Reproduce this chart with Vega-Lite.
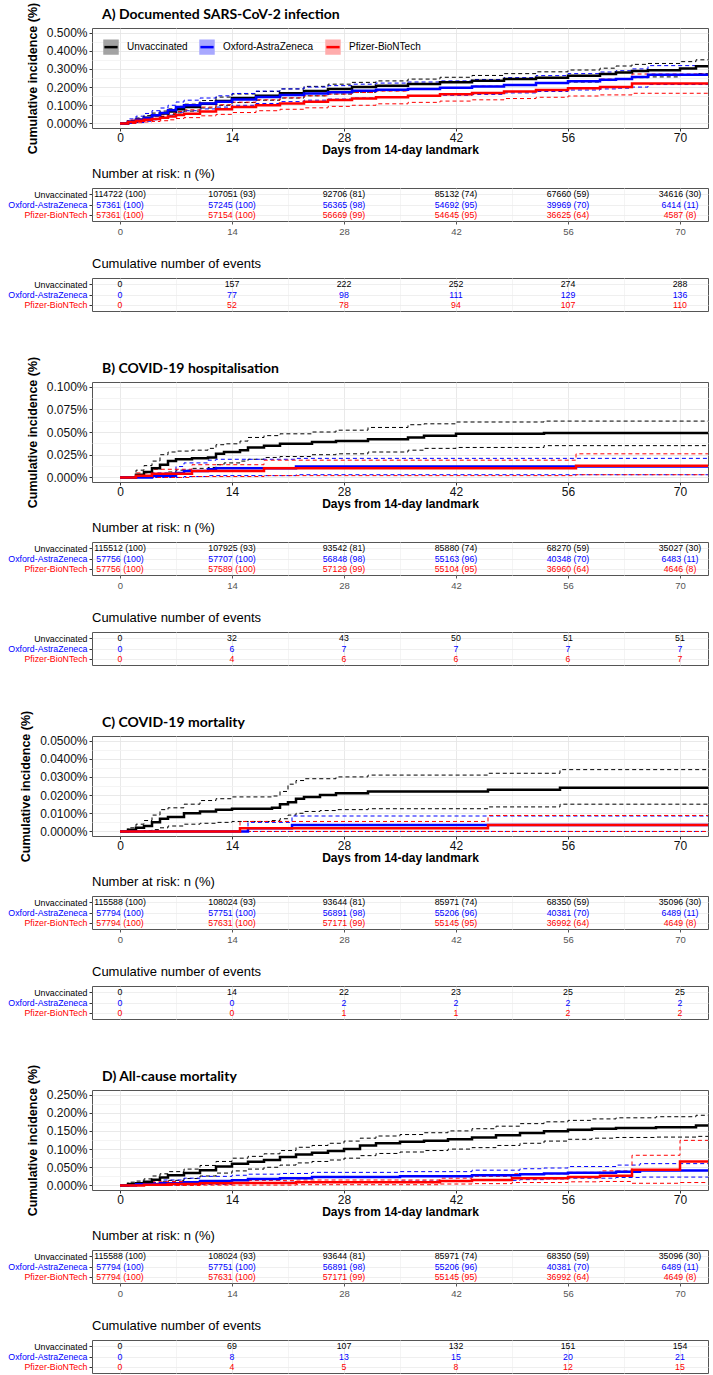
{
"$schema": "https://vega.github.io/schema/vega-lite/v6.json",
"background": "white",
"padding": {"left": 7, "top": 1, "right": 5, "bottom": 2},
"config": {
 "view": {"stroke": "#555555", "strokeWidth": 1},
 "font": "Liberation Sans",
 "axis": {"labelFont": "Liberation Sans", "titleFont": "Liberation Sans", "labelColor": "#111111", "titleColor": "#000000", "tickColor": "#333333", "gridWidth": 0.8, "labelOverlap": false},
 "legend": {"labelFont": "Liberation Sans"}
},
"datasets": {
 "curves": [
  {"panel":"A","group":"Unvaccinated","day":0,"est":0,"lo":0,"hi":0},
  {"panel":"A","group":"Unvaccinated","day":1,"est":0.01,"lo":0.003,"hi":0.017},
  {"panel":"A","group":"Unvaccinated","day":2,"est":0.02,"lo":0.01,"hi":0.03},
  {"panel":"A","group":"Unvaccinated","day":3,"est":0.032,"lo":0.018,"hi":0.043},
  {"panel":"A","group":"Unvaccinated","day":4,"est":0.045,"lo":0.028,"hi":0.057},
  {"panel":"A","group":"Unvaccinated","day":5,"est":0.055,"lo":0.038,"hi":0.068},
  {"panel":"A","group":"Unvaccinated","day":6,"est":0.066,"lo":0.048,"hi":0.08},
  {"panel":"A","group":"Unvaccinated","day":7,"est":0.078,"lo":0.058,"hi":0.094},
  {"panel":"A","group":"Unvaccinated","day":8,"est":0.09,"lo":0.068,"hi":0.106},
  {"panel":"A","group":"Unvaccinated","day":10,"est":0.108,"lo":0.085,"hi":0.126},
  {"panel":"A","group":"Unvaccinated","day":12,"est":0.124,"lo":0.1,"hi":0.145},
  {"panel":"A","group":"Unvaccinated","day":14,"est":0.14,"lo":0.115,"hi":0.162},
  {"panel":"A","group":"Unvaccinated","day":17,"est":0.153,"lo":0.128,"hi":0.176},
  {"panel":"A","group":"Unvaccinated","day":20,"est":0.166,"lo":0.14,"hi":0.19},
  {"panel":"A","group":"Unvaccinated","day":23,"est":0.178,"lo":0.152,"hi":0.204},
  {"panel":"A","group":"Unvaccinated","day":26,"est":0.19,"lo":0.162,"hi":0.216},
  {"panel":"A","group":"Unvaccinated","day":29,"est":0.2,"lo":0.172,"hi":0.226},
  {"panel":"A","group":"Unvaccinated","day":32,"est":0.208,"lo":0.18,"hi":0.234},
  {"panel":"A","group":"Unvaccinated","day":36,"est":0.217,"lo":0.188,"hi":0.244},
  {"panel":"A","group":"Unvaccinated","day":40,"est":0.226,"lo":0.196,"hi":0.254},
  {"panel":"A","group":"Unvaccinated","day":44,"est":0.235,"lo":0.204,"hi":0.264},
  {"panel":"A","group":"Unvaccinated","day":48,"est":0.244,"lo":0.212,"hi":0.274},
  {"panel":"A","group":"Unvaccinated","day":52,"est":0.252,"lo":0.22,"hi":0.284},
  {"panel":"A","group":"Unvaccinated","day":56,"est":0.262,"lo":0.228,"hi":0.294},
  {"panel":"A","group":"Unvaccinated","day":60,"est":0.272,"lo":0.236,"hi":0.304},
  {"panel":"A","group":"Unvaccinated","day":62,"est":0.28,"lo":0.244,"hi":0.316},
  {"panel":"A","group":"Unvaccinated","day":64,"est":0.288,"lo":0.252,"hi":0.325},
  {"panel":"A","group":"Unvaccinated","day":66,"est":0.292,"lo":0.256,"hi":0.33},
  {"panel":"A","group":"Unvaccinated","day":70,"est":0.302,"lo":0.264,"hi":0.34},
  {"panel":"A","group":"Unvaccinated","day":72,"est":0.314,"lo":0.274,"hi":0.35},
  {"panel":"A","group":"Unvaccinated","day":74,"est":0.314,"lo":0.274,"hi":0.35},
  {"panel":"A","group":"Oxford-AstraZeneca","day":0,"est":0,"lo":0,"hi":0},
  {"panel":"A","group":"Oxford-AstraZeneca","day":1,"est":0.01,"lo":0,"hi":0.025},
  {"panel":"A","group":"Oxford-AstraZeneca","day":2,"est":0.02,"lo":0.005,"hi":0.04},
  {"panel":"A","group":"Oxford-AstraZeneca","day":3,"est":0.03,"lo":0.012,"hi":0.055},
  {"panel":"A","group":"Oxford-AstraZeneca","day":4,"est":0.045,"lo":0.02,"hi":0.07},
  {"panel":"A","group":"Oxford-AstraZeneca","day":5,"est":0.058,"lo":0.03,"hi":0.085},
  {"panel":"A","group":"Oxford-AstraZeneca","day":6,"est":0.072,"lo":0.045,"hi":0.1},
  {"panel":"A","group":"Oxford-AstraZeneca","day":7,"est":0.09,"lo":0.062,"hi":0.118},
  {"panel":"A","group":"Oxford-AstraZeneca","day":8,"est":0.1,"lo":0.07,"hi":0.128},
  {"panel":"A","group":"Oxford-AstraZeneca","day":10,"est":0.11,"lo":0.08,"hi":0.14},
  {"panel":"A","group":"Oxford-AstraZeneca","day":12,"est":0.12,"lo":0.09,"hi":0.152},
  {"panel":"A","group":"Oxford-AstraZeneca","day":14,"est":0.132,"lo":0.1,"hi":0.165},
  {"panel":"A","group":"Oxford-AstraZeneca","day":17,"est":0.145,"lo":0.11,"hi":0.178},
  {"panel":"A","group":"Oxford-AstraZeneca","day":20,"est":0.156,"lo":0.12,"hi":0.19},
  {"panel":"A","group":"Oxford-AstraZeneca","day":23,"est":0.165,"lo":0.128,"hi":0.2},
  {"panel":"A","group":"Oxford-AstraZeneca","day":26,"est":0.172,"lo":0.134,"hi":0.208},
  {"panel":"A","group":"Oxford-AstraZeneca","day":29,"est":0.18,"lo":0.14,"hi":0.216},
  {"panel":"A","group":"Oxford-AstraZeneca","day":32,"est":0.185,"lo":0.145,"hi":0.222},
  {"panel":"A","group":"Oxford-AstraZeneca","day":36,"est":0.19,"lo":0.15,"hi":0.228},
  {"panel":"A","group":"Oxford-AstraZeneca","day":40,"est":0.196,"lo":0.155,"hi":0.234},
  {"panel":"A","group":"Oxford-AstraZeneca","day":44,"est":0.203,"lo":0.16,"hi":0.242},
  {"panel":"A","group":"Oxford-AstraZeneca","day":48,"est":0.212,"lo":0.168,"hi":0.252},
  {"panel":"A","group":"Oxford-AstraZeneca","day":52,"est":0.222,"lo":0.176,"hi":0.263},
  {"panel":"A","group":"Oxford-AstraZeneca","day":56,"est":0.232,"lo":0.184,"hi":0.274},
  {"panel":"A","group":"Oxford-AstraZeneca","day":60,"est":0.24,"lo":0.19,"hi":0.283},
  {"panel":"A","group":"Oxford-AstraZeneca","day":62,"est":0.245,"lo":0.194,"hi":0.29},
  {"panel":"A","group":"Oxford-AstraZeneca","day":64,"est":0.255,"lo":0.2,"hi":0.3},
  {"panel":"A","group":"Oxford-AstraZeneca","day":66,"est":0.268,"lo":0.214,"hi":0.318},
  {"panel":"A","group":"Oxford-AstraZeneca","day":74,"est":0.27,"lo":0.215,"hi":0.32},
  {"panel":"A","group":"Pfizer-BioNTech","day":0,"est":0,"lo":0,"hi":0},
  {"panel":"A","group":"Pfizer-BioNTech","day":1,"est":0.008,"lo":0,"hi":0.018},
  {"panel":"A","group":"Pfizer-BioNTech","day":2,"est":0.015,"lo":0.004,"hi":0.026},
  {"panel":"A","group":"Pfizer-BioNTech","day":3,"est":0.02,"lo":0.008,"hi":0.033},
  {"panel":"A","group":"Pfizer-BioNTech","day":4,"est":0.025,"lo":0.011,"hi":0.04},
  {"panel":"A","group":"Pfizer-BioNTech","day":5,"est":0.031,"lo":0.015,"hi":0.047},
  {"panel":"A","group":"Pfizer-BioNTech","day":6,"est":0.038,"lo":0.02,"hi":0.055},
  {"panel":"A","group":"Pfizer-BioNTech","day":7,"est":0.047,"lo":0.027,"hi":0.066},
  {"panel":"A","group":"Pfizer-BioNTech","day":8,"est":0.054,"lo":0.032,"hi":0.075},
  {"panel":"A","group":"Pfizer-BioNTech","day":10,"est":0.066,"lo":0.042,"hi":0.09},
  {"panel":"A","group":"Pfizer-BioNTech","day":12,"est":0.078,"lo":0.05,"hi":0.103},
  {"panel":"A","group":"Pfizer-BioNTech","day":14,"est":0.09,"lo":0.06,"hi":0.117},
  {"panel":"A","group":"Pfizer-BioNTech","day":17,"est":0.1,"lo":0.07,"hi":0.13},
  {"panel":"A","group":"Pfizer-BioNTech","day":20,"est":0.11,"lo":0.078,"hi":0.141},
  {"panel":"A","group":"Pfizer-BioNTech","day":23,"est":0.12,"lo":0.086,"hi":0.152},
  {"panel":"A","group":"Pfizer-BioNTech","day":26,"est":0.129,"lo":0.094,"hi":0.162},
  {"panel":"A","group":"Pfizer-BioNTech","day":29,"est":0.137,"lo":0.1,"hi":0.17},
  {"panel":"A","group":"Pfizer-BioNTech","day":32,"est":0.144,"lo":0.108,"hi":0.178},
  {"panel":"A","group":"Pfizer-BioNTech","day":36,"est":0.153,"lo":0.116,"hi":0.188},
  {"panel":"A","group":"Pfizer-BioNTech","day":40,"est":0.161,"lo":0.123,"hi":0.197},
  {"panel":"A","group":"Pfizer-BioNTech","day":44,"est":0.168,"lo":0.13,"hi":0.205},
  {"panel":"A","group":"Pfizer-BioNTech","day":48,"est":0.176,"lo":0.137,"hi":0.214},
  {"panel":"A","group":"Pfizer-BioNTech","day":52,"est":0.184,"lo":0.144,"hi":0.224},
  {"panel":"A","group":"Pfizer-BioNTech","day":56,"est":0.193,"lo":0.151,"hi":0.235},
  {"panel":"A","group":"Pfizer-BioNTech","day":60,"est":0.2,"lo":0.157,"hi":0.244},
  {"panel":"A","group":"Pfizer-BioNTech","day":64,"est":0.22,"lo":0.166,"hi":0.272},
  {"panel":"A","group":"Pfizer-BioNTech","day":74,"est":0.22,"lo":0.166,"hi":0.272},

  {"panel":"B","group":"Unvaccinated","day":0,"est":0,"lo":0,"hi":0},
  {"panel":"B","group":"Unvaccinated","day":2,"est":0.003,"lo":0,"hi":0.008},
  {"panel":"B","group":"Unvaccinated","day":3,"est":0.006,"lo":0.001,"hi":0.013},
  {"panel":"B","group":"Unvaccinated","day":4,"est":0.01,"lo":0.002,"hi":0.018},
  {"panel":"B","group":"Unvaccinated","day":5,"est":0.014,"lo":0.004,"hi":0.025},
  {"panel":"B","group":"Unvaccinated","day":6,"est":0.018,"lo":0.006,"hi":0.028},
  {"panel":"B","group":"Unvaccinated","day":7,"est":0.02,"lo":0.008,"hi":0.029},
  {"panel":"B","group":"Unvaccinated","day":9,"est":0.021,"lo":0.01,"hi":0.03},
  {"panel":"B","group":"Unvaccinated","day":11,"est":0.022,"lo":0.011,"hi":0.032},
  {"panel":"B","group":"Unvaccinated","day":12,"est":0.026,"lo":0.014,"hi":0.036},
  {"panel":"B","group":"Unvaccinated","day":13,"est":0.028,"lo":0.016,"hi":0.037},
  {"panel":"B","group":"Unvaccinated","day":15,"est":0.03,"lo":0.018,"hi":0.04},
  {"panel":"B","group":"Unvaccinated","day":16,"est":0.033,"lo":0.02,"hi":0.044},
  {"panel":"B","group":"Unvaccinated","day":18,"est":0.035,"lo":0.022,"hi":0.046},
  {"panel":"B","group":"Unvaccinated","day":20,"est":0.037,"lo":0.023,"hi":0.048},
  {"panel":"B","group":"Unvaccinated","day":24,"est":0.039,"lo":0.025,"hi":0.05},
  {"panel":"B","group":"Unvaccinated","day":27,"est":0.04,"lo":0.026,"hi":0.052},
  {"panel":"B","group":"Unvaccinated","day":31,"est":0.042,"lo":0.028,"hi":0.055},
  {"panel":"B","group":"Unvaccinated","day":36,"est":0.044,"lo":0.03,"hi":0.058},
  {"panel":"B","group":"Unvaccinated","day":38,"est":0.046,"lo":0.032,"hi":0.059},
  {"panel":"B","group":"Unvaccinated","day":42,"est":0.048,"lo":0.033,"hi":0.061},
  {"panel":"B","group":"Unvaccinated","day":53,"est":0.049,"lo":0.035,"hi":0.062},
  {"panel":"B","group":"Unvaccinated","day":74,"est":0.049,"lo":0.035,"hi":0.062},
  {"panel":"B","group":"Oxford-AstraZeneca","day":0,"est":0,"lo":0,"hi":0},
  {"panel":"B","group":"Oxford-AstraZeneca","day":4,"est":0.002,"lo":0,"hi":0.005},
  {"panel":"B","group":"Oxford-AstraZeneca","day":7,"est":0.005,"lo":0,"hi":0.012},
  {"panel":"B","group":"Oxford-AstraZeneca","day":8,"est":0.007,"lo":0.001,"hi":0.016},
  {"panel":"B","group":"Oxford-AstraZeneca","day":11,"est":0.009,"lo":0.002,"hi":0.019},
  {"panel":"B","group":"Oxford-AstraZeneca","day":12,"est":0.01,"lo":0.002,"hi":0.02},
  {"panel":"B","group":"Oxford-AstraZeneca","day":22,"est":0.012,"lo":0.003,"hi":0.021},
  {"panel":"B","group":"Oxford-AstraZeneca","day":74,"est":0.012,"lo":0.003,"hi":0.021},
  {"panel":"B","group":"Pfizer-BioNTech","day":0,"est":0,"lo":0,"hi":0},
  {"panel":"B","group":"Pfizer-BioNTech","day":2,"est":0.002,"lo":0,"hi":0.005},
  {"panel":"B","group":"Pfizer-BioNTech","day":4,"est":0.004,"lo":0,"hi":0.009},
  {"panel":"B","group":"Pfizer-BioNTech","day":9,"est":0.007,"lo":0.001,"hi":0.014},
  {"panel":"B","group":"Pfizer-BioNTech","day":18,"est":0.01,"lo":0.002,"hi":0.019},
  {"panel":"B","group":"Pfizer-BioNTech","day":57,"est":0.013,"lo":0.003,"hi":0.026},
  {"panel":"B","group":"Pfizer-BioNTech","day":74,"est":0.013,"lo":0.003,"hi":0.026},

  {"panel":"C","group":"Unvaccinated","day":0,"est":0,"lo":0,"hi":0},
  {"panel":"C","group":"Unvaccinated","day":1,"est":0.001,"lo":0,"hi":0.002},
  {"panel":"C","group":"Unvaccinated","day":2,"est":0.002,"lo":0,"hi":0.004},
  {"panel":"C","group":"Unvaccinated","day":3,"est":0.003,"lo":0.0005,"hi":0.006},
  {"panel":"C","group":"Unvaccinated","day":4,"est":0.005,"lo":0.001,"hi":0.009},
  {"panel":"C","group":"Unvaccinated","day":5,"est":0.007,"lo":0.002,"hi":0.012},
  {"panel":"C","group":"Unvaccinated","day":6,"est":0.008,"lo":0.003,"hi":0.013},
  {"panel":"C","group":"Unvaccinated","day":8,"est":0.01,"lo":0.004,"hi":0.015},
  {"panel":"C","group":"Unvaccinated","day":10,"est":0.011,"lo":0.0045,"hi":0.017},
  {"panel":"C","group":"Unvaccinated","day":12,"est":0.012,"lo":0.005,"hi":0.018},
  {"panel":"C","group":"Unvaccinated","day":14,"est":0.0125,"lo":0.0055,"hi":0.019},
  {"panel":"C","group":"Unvaccinated","day":19,"est":0.013,"lo":0.006,"hi":0.0195},
  {"panel":"C","group":"Unvaccinated","day":20,"est":0.015,"lo":0.007,"hi":0.022},
  {"panel":"C","group":"Unvaccinated","day":21,"est":0.016,"lo":0.009,"hi":0.026},
  {"panel":"C","group":"Unvaccinated","day":22,"est":0.018,"lo":0.01,"hi":0.028},
  {"panel":"C","group":"Unvaccinated","day":23,"est":0.019,"lo":0.011,"hi":0.029},
  {"panel":"C","group":"Unvaccinated","day":25,"est":0.02,"lo":0.0115,"hi":0.029},
  {"panel":"C","group":"Unvaccinated","day":27,"est":0.021,"lo":0.012,"hi":0.03},
  {"panel":"C","group":"Unvaccinated","day":31,"est":0.022,"lo":0.0125,"hi":0.031},
  {"panel":"C","group":"Unvaccinated","day":46,"est":0.023,"lo":0.0135,"hi":0.032},
  {"panel":"C","group":"Unvaccinated","day":55,"est":0.024,"lo":0.015,"hi":0.034},
  {"panel":"C","group":"Unvaccinated","day":74,"est":0.024,"lo":0.015,"hi":0.034},
  {"panel":"C","group":"Oxford-AstraZeneca","day":0,"est":0,"lo":0,"hi":0},
  {"panel":"C","group":"Oxford-AstraZeneca","day":16,"est":0.0018,"lo":0,"hi":0.005},
  {"panel":"C","group":"Oxford-AstraZeneca","day":21.5,"est":0.0035,"lo":0,"hi":0.0085},
  {"panel":"C","group":"Oxford-AstraZeneca","day":74,"est":0.0035,"lo":0,"hi":0.0085},
  {"panel":"C","group":"Pfizer-BioNTech","day":0,"est":0,"lo":0,"hi":0},
  {"panel":"C","group":"Pfizer-BioNTech","day":15,"est":0.0018,"lo":0,"hi":0.0055},
  {"panel":"C","group":"Pfizer-BioNTech","day":46,"est":0.0035,"lo":0,"hi":0.0088},
  {"panel":"C","group":"Pfizer-BioNTech","day":74,"est":0.0035,"lo":0,"hi":0.0088},

  {"panel":"D","group":"Unvaccinated","day":0,"est":0,"lo":0,"hi":0},
  {"panel":"D","group":"Unvaccinated","day":1,"est":0.004,"lo":0,"hi":0.009},
  {"panel":"D","group":"Unvaccinated","day":2,"est":0.006,"lo":0.001,"hi":0.012},
  {"panel":"D","group":"Unvaccinated","day":3,"est":0.01,"lo":0.003,"hi":0.018},
  {"panel":"D","group":"Unvaccinated","day":4,"est":0.016,"lo":0.006,"hi":0.026},
  {"panel":"D","group":"Unvaccinated","day":5,"est":0.022,"lo":0.01,"hi":0.032},
  {"panel":"D","group":"Unvaccinated","day":6,"est":0.028,"lo":0.014,"hi":0.038},
  {"panel":"D","group":"Unvaccinated","day":8,"est":0.034,"lo":0.019,"hi":0.045},
  {"panel":"D","group":"Unvaccinated","day":10,"est":0.042,"lo":0.026,"hi":0.055},
  {"panel":"D","group":"Unvaccinated","day":12,"est":0.052,"lo":0.034,"hi":0.066},
  {"panel":"D","group":"Unvaccinated","day":14,"est":0.06,"lo":0.04,"hi":0.075},
  {"panel":"D","group":"Unvaccinated","day":16,"est":0.065,"lo":0.045,"hi":0.08},
  {"panel":"D","group":"Unvaccinated","day":18,"est":0.07,"lo":0.05,"hi":0.087},
  {"panel":"D","group":"Unvaccinated","day":20,"est":0.078,"lo":0.056,"hi":0.096},
  {"panel":"D","group":"Unvaccinated","day":22,"est":0.085,"lo":0.062,"hi":0.105},
  {"panel":"D","group":"Unvaccinated","day":24,"est":0.09,"lo":0.066,"hi":0.11},
  {"panel":"D","group":"Unvaccinated","day":26,"est":0.095,"lo":0.07,"hi":0.116},
  {"panel":"D","group":"Unvaccinated","day":28,"est":0.1,"lo":0.075,"hi":0.122},
  {"panel":"D","group":"Unvaccinated","day":30,"est":0.11,"lo":0.082,"hi":0.13},
  {"panel":"D","group":"Unvaccinated","day":32,"est":0.116,"lo":0.088,"hi":0.136},
  {"panel":"D","group":"Unvaccinated","day":35,"est":0.12,"lo":0.092,"hi":0.14},
  {"panel":"D","group":"Unvaccinated","day":38,"est":0.123,"lo":0.096,"hi":0.145},
  {"panel":"D","group":"Unvaccinated","day":41,"est":0.127,"lo":0.1,"hi":0.15},
  {"panel":"D","group":"Unvaccinated","day":44,"est":0.132,"lo":0.104,"hi":0.156},
  {"panel":"D","group":"Unvaccinated","day":47,"est":0.138,"lo":0.11,"hi":0.163},
  {"panel":"D","group":"Unvaccinated","day":50,"est":0.144,"lo":0.116,"hi":0.17},
  {"panel":"D","group":"Unvaccinated","day":53,"est":0.149,"lo":0.122,"hi":0.175},
  {"panel":"D","group":"Unvaccinated","day":56,"est":0.153,"lo":0.127,"hi":0.179},
  {"panel":"D","group":"Unvaccinated","day":59,"est":0.156,"lo":0.13,"hi":0.183},
  {"panel":"D","group":"Unvaccinated","day":62,"est":0.158,"lo":0.132,"hi":0.186},
  {"panel":"D","group":"Unvaccinated","day":67,"est":0.16,"lo":0.133,"hi":0.189},
  {"panel":"D","group":"Unvaccinated","day":72,"est":0.165,"lo":0.135,"hi":0.193},
  {"panel":"D","group":"Unvaccinated","day":74,"est":0.165,"lo":0.135,"hi":0.193},
  {"panel":"D","group":"Oxford-AstraZeneca","day":0,"est":0,"lo":0,"hi":0},
  {"panel":"D","group":"Oxford-AstraZeneca","day":2,"est":0.003,"lo":0,"hi":0.008},
  {"panel":"D","group":"Oxford-AstraZeneca","day":5,"est":0.006,"lo":0.001,"hi":0.015},
  {"panel":"D","group":"Oxford-AstraZeneca","day":8,"est":0.009,"lo":0.002,"hi":0.02},
  {"panel":"D","group":"Oxford-AstraZeneca","day":10,"est":0.012,"lo":0.003,"hi":0.025},
  {"panel":"D","group":"Oxford-AstraZeneca","day":14,"est":0.014,"lo":0.005,"hi":0.028},
  {"panel":"D","group":"Oxford-AstraZeneca","day":16,"est":0.018,"lo":0.007,"hi":0.031},
  {"panel":"D","group":"Oxford-AstraZeneca","day":20,"est":0.02,"lo":0.009,"hi":0.033},
  {"panel":"D","group":"Oxford-AstraZeneca","day":24,"est":0.023,"lo":0.01,"hi":0.036},
  {"panel":"D","group":"Oxford-AstraZeneca","day":35,"est":0.025,"lo":0.012,"hi":0.038},
  {"panel":"D","group":"Oxford-AstraZeneca","day":44,"est":0.028,"lo":0.014,"hi":0.042},
  {"panel":"D","group":"Oxford-AstraZeneca","day":50,"est":0.031,"lo":0.016,"hi":0.046},
  {"panel":"D","group":"Oxford-AstraZeneca","day":53,"est":0.033,"lo":0.018,"hi":0.048},
  {"panel":"D","group":"Oxford-AstraZeneca","day":56,"est":0.035,"lo":0.02,"hi":0.052},
  {"panel":"D","group":"Oxford-AstraZeneca","day":62,"est":0.038,"lo":0.022,"hi":0.056},
  {"panel":"D","group":"Oxford-AstraZeneca","day":65,"est":0.041,"lo":0.023,"hi":0.06},
  {"panel":"D","group":"Oxford-AstraZeneca","day":74,"est":0.041,"lo":0.023,"hi":0.06},
  {"panel":"D","group":"Pfizer-BioNTech","day":0,"est":0,"lo":0,"hi":0},
  {"panel":"D","group":"Pfizer-BioNTech","day":3,"est":0.002,"lo":0,"hi":0.01},
  {"panel":"D","group":"Pfizer-BioNTech","day":6,"est":0.004,"lo":0,"hi":0.011},
  {"panel":"D","group":"Pfizer-BioNTech","day":10,"est":0.006,"lo":0.001,"hi":0.013},
  {"panel":"D","group":"Pfizer-BioNTech","day":14,"est":0.007,"lo":0.001,"hi":0.014},
  {"panel":"D","group":"Pfizer-BioNTech","day":22,"est":0.009,"lo":0.002,"hi":0.015},
  {"panel":"D","group":"Pfizer-BioNTech","day":40,"est":0.012,"lo":0.004,"hi":0.02},
  {"panel":"D","group":"Pfizer-BioNTech","day":44,"est":0.015,"lo":0.005,"hi":0.025},
  {"panel":"D","group":"Pfizer-BioNTech","day":49,"est":0.02,"lo":0.008,"hi":0.032},
  {"panel":"D","group":"Pfizer-BioNTech","day":56,"est":0.023,"lo":0.01,"hi":0.036},
  {"panel":"D","group":"Pfizer-BioNTech","day":60,"est":0.027,"lo":0.011,"hi":0.04},
  {"panel":"D","group":"Pfizer-BioNTech","day":64,"est":0.043,"lo":0.006,"hi":0.083},
  {"panel":"D","group":"Pfizer-BioNTech","day":70,"est":0.066,"lo":0.008,"hi":0.124},
  {"panel":"D","group":"Pfizer-BioNTech","day":74,"est":0.066,"lo":0.008,"hi":0.124}
 ],
 "risk": [
  {"panel":"A","group":"Unvaccinated","day":0,"label":"114722 (100)"},
  {"panel":"A","group":"Unvaccinated","day":14,"label":"107051 (93)"},
  {"panel":"A","group":"Unvaccinated","day":28,"label":"92706 (81)"},
  {"panel":"A","group":"Unvaccinated","day":42,"label":"85132 (74)"},
  {"panel":"A","group":"Unvaccinated","day":56,"label":"67660 (59)"},
  {"panel":"A","group":"Unvaccinated","day":70,"label":"34616 (30)"},
  {"panel":"A","group":"Oxford-AstraZeneca","day":0,"label":"57361 (100)"},
  {"panel":"A","group":"Oxford-AstraZeneca","day":14,"label":"57245 (100)"},
  {"panel":"A","group":"Oxford-AstraZeneca","day":28,"label":"56365 (98)"},
  {"panel":"A","group":"Oxford-AstraZeneca","day":42,"label":"54692 (95)"},
  {"panel":"A","group":"Oxford-AstraZeneca","day":56,"label":"39969 (70)"},
  {"panel":"A","group":"Oxford-AstraZeneca","day":70,"label":"6414 (11)"},
  {"panel":"A","group":"Pfizer-BioNTech","day":0,"label":"57361 (100)"},
  {"panel":"A","group":"Pfizer-BioNTech","day":14,"label":"57154 (100)"},
  {"panel":"A","group":"Pfizer-BioNTech","day":28,"label":"56669 (99)"},
  {"panel":"A","group":"Pfizer-BioNTech","day":42,"label":"54645 (95)"},
  {"panel":"A","group":"Pfizer-BioNTech","day":56,"label":"36625 (64)"},
  {"panel":"A","group":"Pfizer-BioNTech","day":70,"label":"4587 (8)"},
  {"panel":"B","group":"Unvaccinated","day":0,"label":"115512 (100)"},
  {"panel":"B","group":"Unvaccinated","day":14,"label":"107925 (93)"},
  {"panel":"B","group":"Unvaccinated","day":28,"label":"93542 (81)"},
  {"panel":"B","group":"Unvaccinated","day":42,"label":"85880 (74)"},
  {"panel":"B","group":"Unvaccinated","day":56,"label":"68270 (59)"},
  {"panel":"B","group":"Unvaccinated","day":70,"label":"35027 (30)"},
  {"panel":"B","group":"Oxford-AstraZeneca","day":0,"label":"57756 (100)"},
  {"panel":"B","group":"Oxford-AstraZeneca","day":14,"label":"57707 (100)"},
  {"panel":"B","group":"Oxford-AstraZeneca","day":28,"label":"56848 (98)"},
  {"panel":"B","group":"Oxford-AstraZeneca","day":42,"label":"55163 (96)"},
  {"panel":"B","group":"Oxford-AstraZeneca","day":56,"label":"40348 (70)"},
  {"panel":"B","group":"Oxford-AstraZeneca","day":70,"label":"6483 (11)"},
  {"panel":"B","group":"Pfizer-BioNTech","day":0,"label":"57756 (100)"},
  {"panel":"B","group":"Pfizer-BioNTech","day":14,"label":"57589 (100)"},
  {"panel":"B","group":"Pfizer-BioNTech","day":28,"label":"57129 (99)"},
  {"panel":"B","group":"Pfizer-BioNTech","day":42,"label":"55104 (95)"},
  {"panel":"B","group":"Pfizer-BioNTech","day":56,"label":"36960 (64)"},
  {"panel":"B","group":"Pfizer-BioNTech","day":70,"label":"4646 (8)"},
  {"panel":"C","group":"Unvaccinated","day":0,"label":"115588 (100)"},
  {"panel":"C","group":"Unvaccinated","day":14,"label":"108024 (93)"},
  {"panel":"C","group":"Unvaccinated","day":28,"label":"93644 (81)"},
  {"panel":"C","group":"Unvaccinated","day":42,"label":"85971 (74)"},
  {"panel":"C","group":"Unvaccinated","day":56,"label":"68350 (59)"},
  {"panel":"C","group":"Unvaccinated","day":70,"label":"35096 (30)"},
  {"panel":"C","group":"Oxford-AstraZeneca","day":0,"label":"57794 (100)"},
  {"panel":"C","group":"Oxford-AstraZeneca","day":14,"label":"57751 (100)"},
  {"panel":"C","group":"Oxford-AstraZeneca","day":28,"label":"56891 (98)"},
  {"panel":"C","group":"Oxford-AstraZeneca","day":42,"label":"55206 (96)"},
  {"panel":"C","group":"Oxford-AstraZeneca","day":56,"label":"40381 (70)"},
  {"panel":"C","group":"Oxford-AstraZeneca","day":70,"label":"6489 (11)"},
  {"panel":"C","group":"Pfizer-BioNTech","day":0,"label":"57794 (100)"},
  {"panel":"C","group":"Pfizer-BioNTech","day":14,"label":"57631 (100)"},
  {"panel":"C","group":"Pfizer-BioNTech","day":28,"label":"57171 (99)"},
  {"panel":"C","group":"Pfizer-BioNTech","day":42,"label":"55145 (95)"},
  {"panel":"C","group":"Pfizer-BioNTech","day":56,"label":"36992 (64)"},
  {"panel":"C","group":"Pfizer-BioNTech","day":70,"label":"4649 (8)"},
  {"panel":"D","group":"Unvaccinated","day":0,"label":"115588 (100)"},
  {"panel":"D","group":"Unvaccinated","day":14,"label":"108024 (93)"},
  {"panel":"D","group":"Unvaccinated","day":28,"label":"93644 (81)"},
  {"panel":"D","group":"Unvaccinated","day":42,"label":"85971 (74)"},
  {"panel":"D","group":"Unvaccinated","day":56,"label":"68350 (59)"},
  {"panel":"D","group":"Unvaccinated","day":70,"label":"35096 (30)"},
  {"panel":"D","group":"Oxford-AstraZeneca","day":0,"label":"57794 (100)"},
  {"panel":"D","group":"Oxford-AstraZeneca","day":14,"label":"57751 (100)"},
  {"panel":"D","group":"Oxford-AstraZeneca","day":28,"label":"56891 (98)"},
  {"panel":"D","group":"Oxford-AstraZeneca","day":42,"label":"55206 (96)"},
  {"panel":"D","group":"Oxford-AstraZeneca","day":56,"label":"40381 (70)"},
  {"panel":"D","group":"Oxford-AstraZeneca","day":70,"label":"6489 (11)"},
  {"panel":"D","group":"Pfizer-BioNTech","day":0,"label":"57794 (100)"},
  {"panel":"D","group":"Pfizer-BioNTech","day":14,"label":"57631 (100)"},
  {"panel":"D","group":"Pfizer-BioNTech","day":28,"label":"57171 (99)"},
  {"panel":"D","group":"Pfizer-BioNTech","day":42,"label":"55145 (95)"},
  {"panel":"D","group":"Pfizer-BioNTech","day":56,"label":"36992 (64)"},
  {"panel":"D","group":"Pfizer-BioNTech","day":70,"label":"4649 (8)"}
 ],
 "events": [
  {"panel":"A","group":"Unvaccinated","day":0,"label":"0"},{"panel":"A","group":"Unvaccinated","day":14,"label":"157"},{"panel":"A","group":"Unvaccinated","day":28,"label":"222"},{"panel":"A","group":"Unvaccinated","day":42,"label":"252"},{"panel":"A","group":"Unvaccinated","day":56,"label":"274"},{"panel":"A","group":"Unvaccinated","day":70,"label":"288"},
  {"panel":"A","group":"Oxford-AstraZeneca","day":0,"label":"0"},{"panel":"A","group":"Oxford-AstraZeneca","day":14,"label":"77"},{"panel":"A","group":"Oxford-AstraZeneca","day":28,"label":"98"},{"panel":"A","group":"Oxford-AstraZeneca","day":42,"label":"111"},{"panel":"A","group":"Oxford-AstraZeneca","day":56,"label":"129"},{"panel":"A","group":"Oxford-AstraZeneca","day":70,"label":"136"},
  {"panel":"A","group":"Pfizer-BioNTech","day":0,"label":"0"},{"panel":"A","group":"Pfizer-BioNTech","day":14,"label":"52"},{"panel":"A","group":"Pfizer-BioNTech","day":28,"label":"78"},{"panel":"A","group":"Pfizer-BioNTech","day":42,"label":"94"},{"panel":"A","group":"Pfizer-BioNTech","day":56,"label":"107"},{"panel":"A","group":"Pfizer-BioNTech","day":70,"label":"110"},
  {"panel":"B","group":"Unvaccinated","day":0,"label":"0"},{"panel":"B","group":"Unvaccinated","day":14,"label":"32"},{"panel":"B","group":"Unvaccinated","day":28,"label":"43"},{"panel":"B","group":"Unvaccinated","day":42,"label":"50"},{"panel":"B","group":"Unvaccinated","day":56,"label":"51"},{"panel":"B","group":"Unvaccinated","day":70,"label":"51"},
  {"panel":"B","group":"Oxford-AstraZeneca","day":0,"label":"0"},{"panel":"B","group":"Oxford-AstraZeneca","day":14,"label":"6"},{"panel":"B","group":"Oxford-AstraZeneca","day":28,"label":"7"},{"panel":"B","group":"Oxford-AstraZeneca","day":42,"label":"7"},{"panel":"B","group":"Oxford-AstraZeneca","day":56,"label":"7"},{"panel":"B","group":"Oxford-AstraZeneca","day":70,"label":"7"},
  {"panel":"B","group":"Pfizer-BioNTech","day":0,"label":"0"},{"panel":"B","group":"Pfizer-BioNTech","day":14,"label":"4"},{"panel":"B","group":"Pfizer-BioNTech","day":28,"label":"6"},{"panel":"B","group":"Pfizer-BioNTech","day":42,"label":"6"},{"panel":"B","group":"Pfizer-BioNTech","day":56,"label":"6"},{"panel":"B","group":"Pfizer-BioNTech","day":70,"label":"7"},
  {"panel":"C","group":"Unvaccinated","day":0,"label":"0"},{"panel":"C","group":"Unvaccinated","day":14,"label":"14"},{"panel":"C","group":"Unvaccinated","day":28,"label":"22"},{"panel":"C","group":"Unvaccinated","day":42,"label":"23"},{"panel":"C","group":"Unvaccinated","day":56,"label":"25"},{"panel":"C","group":"Unvaccinated","day":70,"label":"25"},
  {"panel":"C","group":"Oxford-AstraZeneca","day":0,"label":"0"},{"panel":"C","group":"Oxford-AstraZeneca","day":14,"label":"0"},{"panel":"C","group":"Oxford-AstraZeneca","day":28,"label":"2"},{"panel":"C","group":"Oxford-AstraZeneca","day":42,"label":"2"},{"panel":"C","group":"Oxford-AstraZeneca","day":56,"label":"2"},{"panel":"C","group":"Oxford-AstraZeneca","day":70,"label":"2"},
  {"panel":"C","group":"Pfizer-BioNTech","day":0,"label":"0"},{"panel":"C","group":"Pfizer-BioNTech","day":14,"label":"0"},{"panel":"C","group":"Pfizer-BioNTech","day":28,"label":"1"},{"panel":"C","group":"Pfizer-BioNTech","day":42,"label":"1"},{"panel":"C","group":"Pfizer-BioNTech","day":56,"label":"2"},{"panel":"C","group":"Pfizer-BioNTech","day":70,"label":"2"},
  {"panel":"D","group":"Unvaccinated","day":0,"label":"0"},{"panel":"D","group":"Unvaccinated","day":14,"label":"69"},{"panel":"D","group":"Unvaccinated","day":28,"label":"107"},{"panel":"D","group":"Unvaccinated","day":42,"label":"132"},{"panel":"D","group":"Unvaccinated","day":56,"label":"151"},{"panel":"D","group":"Unvaccinated","day":70,"label":"154"},
  {"panel":"D","group":"Oxford-AstraZeneca","day":0,"label":"0"},{"panel":"D","group":"Oxford-AstraZeneca","day":14,"label":"8"},{"panel":"D","group":"Oxford-AstraZeneca","day":28,"label":"13"},{"panel":"D","group":"Oxford-AstraZeneca","day":42,"label":"15"},{"panel":"D","group":"Oxford-AstraZeneca","day":56,"label":"20"},{"panel":"D","group":"Oxford-AstraZeneca","day":70,"label":"21"},
  {"panel":"D","group":"Pfizer-BioNTech","day":0,"label":"0"},{"panel":"D","group":"Pfizer-BioNTech","day":14,"label":"4"},{"panel":"D","group":"Pfizer-BioNTech","day":28,"label":"5"},{"panel":"D","group":"Pfizer-BioNTech","day":42,"label":"8"},{"panel":"D","group":"Pfizer-BioNTech","day":56,"label":"12"},{"panel":"D","group":"Pfizer-BioNTech","day":70,"label":"15"}
 ]
},
"spacing": 43,
"vconcat": [
 {"spacing": 21, "vconcat": [
  {"spacing": 11, "vconcat": [
   {"width": 616, "height": 100,
    "title": {"text": "A) Documented SARS-CoV-2 infection", "anchor": "start", "frame": "group", "dx": 10, "offset": -20, "font": "Lato", "fontSize": 14, "fontWeight": "bold", "color": "#000000"},
    "data": {"name": "curves"},
    "transform": [{"filter": {"field": "panel", "equal": "A"}}],
    "encoding": {"x": {"field": "day", "type": "quantitative", "scale": {"domain": [-3.5, 73.5], "nice": false, "zero": false},
      "axis": {"values": [0,7,14,21,28,35,42,49,56,63,70], "labelExpr": "datum.value % 14 === 0 ? datum.label : ''", "title": "Days from 14-day landmark", "titleFontWeight": "bold", "titleFontSize": 12, "titlePadding": 1, "labelFontSize": 12, "labelPadding": 1, "tickSize": 3, "tickOpacity": {"condition": {"test": "datum.value % 14 === 0", "value": 1}, "value": 0}, "grid": true, "gridColor": {"condition": {"test": "datum.value % 14 === 0", "value": "#e3e3e3"}, "value": "#f1f1f1"}, "domain": false}}},
    "layer": [
     {"mark": {"type": "area", "interpolate": "step-after", "fillOpacity": 0, "strokeWidth": 1, "strokeDash": [4, 3], "clip": true},
      "encoding": {
       "y": {"field": "hi", "type": "quantitative", "scale": {"domain": [-0.025, 0.525], "nice": false, "zero": false},
        "axis": {"values": [0,0.05,0.1,0.15,0.2,0.25,0.3,0.35,0.4,0.45,0.5], "labelExpr": "round(datum.value*20) % 2 === 0 ? format(datum.value, '.3f') + '%' : ''", "title": "Cumulative incidence (%)", "titleFontWeight": "bold", "titleFontSize": 12.5, "titlePadding": 7, "labelFontSize": 12, "labelPadding": 2, "tickSize": 3, "tickOpacity": {"condition": {"test": "round(datum.value*20) % 2 === 0", "value": 1}, "value": 0}, "grid": true, "gridColor": {"condition": {"test": "round(datum.value*20) % 2 === 0", "value": "#e3e3e3"}, "value": "#f1f1f1"}, "domain": false}},
       "y2": {"field": "lo"},
       "fill": {"field": "group", "type": "nominal", "scale": {"domain": ["Unvaccinated", "Oxford-AstraZeneca", "Pfizer-BioNTech"], "range": ["#a3a3a3", "#a8a8ff", "#ffacac"]},
        "legend": {"orient": "top-left", "offset": 10, "direction": "horizontal", "title": null, "symbolType": "M-0.85,0H1V-1H-1V1H1V0Z", "symbolSize": 240, "symbolStrokeWidth": 2.5, "symbolDash": [13.2, 200], "symbolOpacity": 1, "labelFontSize": 10, "labelColor": "#000000", "labelOffset": 7, "columnPadding": 6}},
       "stroke": {"field": "group", "type": "nominal", "scale": {"domain": ["Unvaccinated", "Oxford-AstraZeneca", "Pfizer-BioNTech"], "range": ["#000000", "#0000ff", "#ff0000"]},
        "legend": {"orient": "top-left", "offset": 10, "direction": "horizontal", "title": null, "symbolType": "M-0.85,0H1V-1H-1V1H1V0Z", "symbolSize": 240, "symbolStrokeWidth": 2.5, "symbolDash": [13.2, 200], "symbolOpacity": 1, "labelFontSize": 10, "labelColor": "#000000", "labelOffset": 7, "columnPadding": 6}}}},
     {"mark": {"type": "line", "interpolate": "step-after", "strokeWidth": 2.5, "clip": true},
      "encoding": {
       "y": {"field": "est", "type": "quantitative",
        "axis": {"values": [0,0.05,0.1,0.15,0.2,0.25,0.3,0.35,0.4,0.45,0.5], "labelExpr": "round(datum.value*20) % 2 === 0 ? format(datum.value, '.3f') + '%' : ''", "title": "Cumulative incidence (%)", "titleFontWeight": "bold", "titleFontSize": 12.5, "titlePadding": 7, "labelFontSize": 12, "labelPadding": 2, "tickSize": 3, "tickOpacity": {"condition": {"test": "round(datum.value*20) % 2 === 0", "value": 1}, "value": 0}, "grid": true, "gridColor": {"condition": {"test": "round(datum.value*20) % 2 === 0", "value": "#e3e3e3"}, "value": "#f1f1f1"}, "domain": false}},
       "stroke": {"field": "group", "type": "nominal",
        "legend": {"orient": "top-left", "offset": 10, "direction": "horizontal", "title": null, "symbolType": "M-0.85,0H1V-1H-1V1H1V0Z", "symbolSize": 240, "symbolStrokeWidth": 2.5, "symbolDash": [13.2, 200], "symbolOpacity": 1, "labelFontSize": 10, "labelColor": "#000000", "labelOffset": 7, "columnPadding": 6}}}}
    ]},
   {"width": 616, "height": 33,
    "title": {"text": "Number at risk: n (%)", "anchor": "start", "frame": "group", "offset": 7, "font": "Liberation Sans", "fontSize": 13, "fontWeight": "normal", "color": "#000000"},
    "data": {"name": "risk"},
    "transform": [{"filter": {"field": "panel", "equal": "A"}}],
    "mark": {"type": "text", "fontSize": 8.8, "font": "Liberation Sans"},
    "encoding": {
     "x": {"field": "day", "type": "quantitative", "scale": {"domain": [-3.5, 73.5], "nice": false, "zero": false},
      "axis": {"values": [0,7,14,21,28,35,42,49,56,63,70], "labelExpr": "datum.value % 14 === 0 ? datum.label : ''", "title": null, "labelFontSize": 9.5, "labelColor": "#555555", "labelPadding": 2, "tickSize": 3, "tickColor": "#555555", "tickOpacity": {"condition": {"test": "datum.value % 14 === 0", "value": 1}, "value": 0}, "grid": true, "gridColor": {"condition": {"test": "datum.value % 14 === 0", "value": "#e3e3e3"}, "value": "#f1f1f1"}, "domain": false}},
     "y": {"field": "group", "type": "nominal", "scale": {"type": "point", "domain": ["Unvaccinated", "Oxford-AstraZeneca", "Pfizer-BioNTech"], "padding": 0.6},
      "axis": {"title": null, "labelFontSize": 8.8, "labelPadding": 2, "tickSize": 3, "grid": true, "gridColor": "#ebebeb", "domain": false, "labelColor": {"expr": "datum.value === 'Oxford-AstraZeneca' ? '#0000ff' : datum.value === 'Pfizer-BioNTech' ? '#ff0000' : '#000000'"}}},
     "text": {"field": "label"},
     "color": {"field": "group", "type": "nominal", "scale": {"domain": ["Unvaccinated", "Oxford-AstraZeneca", "Pfizer-BioNTech"], "range": ["#000000", "#0000ff", "#ff0000"]}, "legend": null}
    }}
  ]},
  {"width": 616, "height": 33,
   "title": {"text": "Cumulative number of events", "anchor": "start", "frame": "group", "offset": 7, "font": "Liberation Sans", "fontSize": 13, "fontWeight": "normal", "color": "#000000"},
   "data": {"name": "events"},
   "transform": [{"filter": {"field": "panel", "equal": "A"}}],
   "mark": {"type": "text", "fontSize": 8.8, "font": "Liberation Sans"},
   "encoding": {
    "x": {"field": "day", "type": "quantitative", "scale": {"domain": [-3.5, 73.5], "nice": false, "zero": false},
     "axis": {"values": [0,7,14,21,28,35,42,49,56,63,70], "title": null, "labels": false, "ticks": false, "grid": true, "gridColor": {"condition": {"test": "datum.value % 14 === 0", "value": "#e3e3e3"}, "value": "#f1f1f1"}, "domain": false}},
    "y": {"field": "group", "type": "nominal", "scale": {"type": "point", "domain": ["Unvaccinated", "Oxford-AstraZeneca", "Pfizer-BioNTech"], "padding": 0.6},
     "axis": {"title": null, "labelFontSize": 8.8, "labelPadding": 2, "tickSize": 3, "grid": true, "gridColor": "#ebebeb", "domain": false, "labelColor": {"expr": "datum.value === 'Oxford-AstraZeneca' ? '#0000ff' : datum.value === 'Pfizer-BioNTech' ? '#ff0000' : '#000000'"}}},
    "text": {"field": "label"},
    "color": {"field": "group", "type": "nominal", "scale": {"domain": ["Unvaccinated", "Oxford-AstraZeneca", "Pfizer-BioNTech"], "range": ["#000000", "#0000ff", "#ff0000"]}, "legend": null}
   }}
 ]},

 {"spacing": 21, "vconcat": [
  {"spacing": 11, "vconcat": [
   {"width": 616, "height": 100,
    "title": {"text": "B) COVID-19 hospitalisation", "anchor": "start", "frame": "group", "dx": 10, "offset": -20, "font": "Lato", "fontSize": 14, "fontWeight": "bold", "color": "#000000"},
    "data": {"name": "curves"},
    "transform": [{"filter": {"field": "panel", "equal": "B"}}],
    "encoding": {"x": {"field": "day", "type": "quantitative", "scale": {"domain": [-3.5, 73.5], "nice": false, "zero": false},
      "axis": {"values": [0,7,14,21,28,35,42,49,56,63,70], "labelExpr": "datum.value % 14 === 0 ? datum.label : ''", "title": "Days from 14-day landmark", "titleFontWeight": "bold", "titleFontSize": 12, "titlePadding": 1, "labelFontSize": 12, "labelPadding": 1, "tickSize": 3, "tickOpacity": {"condition": {"test": "datum.value % 14 === 0", "value": 1}, "value": 0}, "grid": true, "gridColor": {"condition": {"test": "datum.value % 14 === 0", "value": "#e3e3e3"}, "value": "#f1f1f1"}, "domain": false}}},
    "layer": [
     {"mark": {"type": "area", "interpolate": "step-after", "fillOpacity": 0, "strokeWidth": 1, "strokeDash": [4, 3], "clip": true},
      "encoding": {
       "y": {"field": "hi", "type": "quantitative", "scale": {"domain": [-0.005, 0.105], "nice": false, "zero": false},
        "axis": {"values": [0,0.0125,0.025,0.0375,0.05,0.0625,0.075,0.0875,0.1], "labelExpr": "round(datum.value*80) % 2 === 0 ? format(datum.value, '.3f') + '%' : ''", "title": "Cumulative incidence (%)", "titleFontWeight": "bold", "titleFontSize": 12.5, "titlePadding": 7, "labelFontSize": 12, "labelPadding": 2, "tickSize": 3, "tickOpacity": {"condition": {"test": "round(datum.value*80) % 2 === 0", "value": 1}, "value": 0}, "grid": true, "gridColor": {"condition": {"test": "round(datum.value*80) % 2 === 0", "value": "#e3e3e3"}, "value": "#f1f1f1"}, "domain": false}},
       "y2": {"field": "lo"},
       "fill": {"field": "group", "type": "nominal", "scale": {"domain": ["Unvaccinated", "Oxford-AstraZeneca", "Pfizer-BioNTech"], "range": ["#a3a3a3", "#a8a8ff", "#ffacac"]},
        "legend": {"orient": "top-left", "offset": 10, "direction": "horizontal", "title": null, "symbolType": "M-0.85,0H1V-1H-1V1H1V0Z", "symbolSize": 240, "symbolStrokeWidth": 2.5, "symbolDash": [13.2, 200], "symbolOpacity": 1, "labelFontSize": 10, "labelColor": "#000000", "labelOffset": 7, "columnPadding": 6}},
       "stroke": {"field": "group", "type": "nominal", "scale": {"domain": ["Unvaccinated", "Oxford-AstraZeneca", "Pfizer-BioNTech"], "range": ["#000000", "#0000ff", "#ff0000"]},
        "legend": {"orient": "top-left", "offset": 10, "direction": "horizontal", "title": null, "symbolType": "M-0.85,0H1V-1H-1V1H1V0Z", "symbolSize": 240, "symbolStrokeWidth": 2.5, "symbolDash": [13.2, 200], "symbolOpacity": 1, "labelFontSize": 10, "labelColor": "#000000", "labelOffset": 7, "columnPadding": 6}}}},
     {"mark": {"type": "line", "interpolate": "step-after", "strokeWidth": 2.5, "clip": true},
      "encoding": {
       "y": {"field": "est", "type": "quantitative",
        "axis": {"values": [0,0.0125,0.025,0.0375,0.05,0.0625,0.075,0.0875,0.1], "labelExpr": "round(datum.value*80) % 2 === 0 ? format(datum.value, '.3f') + '%' : ''", "title": "Cumulative incidence (%)", "titleFontWeight": "bold", "titleFontSize": 12.5, "titlePadding": 7, "labelFontSize": 12, "labelPadding": 2, "tickSize": 3, "tickOpacity": {"condition": {"test": "round(datum.value*80) % 2 === 0", "value": 1}, "value": 0}, "grid": true, "gridColor": {"condition": {"test": "round(datum.value*80) % 2 === 0", "value": "#e3e3e3"}, "value": "#f1f1f1"}, "domain": false}},
       "stroke": {"field": "group", "type": "nominal",
        "legend": {"orient": "top-left", "offset": 10, "direction": "horizontal", "title": null, "symbolType": "M-0.85,0H1V-1H-1V1H1V0Z", "symbolSize": 240, "symbolStrokeWidth": 2.5, "symbolDash": [13.2, 200], "symbolOpacity": 1, "labelFontSize": 10, "labelColor": "#000000", "labelOffset": 7, "columnPadding": 6}}}}
    ]},
   {"width": 616, "height": 33,
    "title": {"text": "Number at risk: n (%)", "anchor": "start", "frame": "group", "offset": 7, "font": "Liberation Sans", "fontSize": 13, "fontWeight": "normal", "color": "#000000"},
    "data": {"name": "risk"},
    "transform": [{"filter": {"field": "panel", "equal": "B"}}],
    "mark": {"type": "text", "fontSize": 8.8, "font": "Liberation Sans"},
    "encoding": {
     "x": {"field": "day", "type": "quantitative", "scale": {"domain": [-3.5, 73.5], "nice": false, "zero": false},
      "axis": {"values": [0,7,14,21,28,35,42,49,56,63,70], "labelExpr": "datum.value % 14 === 0 ? datum.label : ''", "title": null, "labelFontSize": 9.5, "labelColor": "#555555", "labelPadding": 2, "tickSize": 3, "tickColor": "#555555", "tickOpacity": {"condition": {"test": "datum.value % 14 === 0", "value": 1}, "value": 0}, "grid": true, "gridColor": {"condition": {"test": "datum.value % 14 === 0", "value": "#e3e3e3"}, "value": "#f1f1f1"}, "domain": false}},
     "y": {"field": "group", "type": "nominal", "scale": {"type": "point", "domain": ["Unvaccinated", "Oxford-AstraZeneca", "Pfizer-BioNTech"], "padding": 0.6},
      "axis": {"title": null, "labelFontSize": 8.8, "labelPadding": 2, "tickSize": 3, "grid": true, "gridColor": "#ebebeb", "domain": false, "labelColor": {"expr": "datum.value === 'Oxford-AstraZeneca' ? '#0000ff' : datum.value === 'Pfizer-BioNTech' ? '#ff0000' : '#000000'"}}},
     "text": {"field": "label"},
     "color": {"field": "group", "type": "nominal", "scale": {"domain": ["Unvaccinated", "Oxford-AstraZeneca", "Pfizer-BioNTech"], "range": ["#000000", "#0000ff", "#ff0000"]}, "legend": null}
    }}
  ]},
  {"width": 616, "height": 33,
   "title": {"text": "Cumulative number of events", "anchor": "start", "frame": "group", "offset": 7, "font": "Liberation Sans", "fontSize": 13, "fontWeight": "normal", "color": "#000000"},
   "data": {"name": "events"},
   "transform": [{"filter": {"field": "panel", "equal": "B"}}],
   "mark": {"type": "text", "fontSize": 8.8, "font": "Liberation Sans"},
   "encoding": {
    "x": {"field": "day", "type": "quantitative", "scale": {"domain": [-3.5, 73.5], "nice": false, "zero": false},
     "axis": {"values": [0,7,14,21,28,35,42,49,56,63,70], "title": null, "labels": false, "ticks": false, "grid": true, "gridColor": {"condition": {"test": "datum.value % 14 === 0", "value": "#e3e3e3"}, "value": "#f1f1f1"}, "domain": false}},
    "y": {"field": "group", "type": "nominal", "scale": {"type": "point", "domain": ["Unvaccinated", "Oxford-AstraZeneca", "Pfizer-BioNTech"], "padding": 0.6},
     "axis": {"title": null, "labelFontSize": 8.8, "labelPadding": 2, "tickSize": 3, "grid": true, "gridColor": "#ebebeb", "domain": false, "labelColor": {"expr": "datum.value === 'Oxford-AstraZeneca' ? '#0000ff' : datum.value === 'Pfizer-BioNTech' ? '#ff0000' : '#000000'"}}},
    "text": {"field": "label"},
    "color": {"field": "group", "type": "nominal", "scale": {"domain": ["Unvaccinated", "Oxford-AstraZeneca", "Pfizer-BioNTech"], "range": ["#000000", "#0000ff", "#ff0000"]}, "legend": null}
   }}
 ]},

 {"spacing": 21, "vconcat": [
  {"spacing": 11, "vconcat": [
   {"width": 616, "height": 100,
    "title": {"text": "C) COVID-19 mortality", "anchor": "start", "frame": "group", "dx": 10, "offset": -20, "font": "Lato", "fontSize": 14, "fontWeight": "bold", "color": "#000000"},
    "data": {"name": "curves"},
    "transform": [{"filter": {"field": "panel", "equal": "C"}}],
    "encoding": {"x": {"field": "day", "type": "quantitative", "scale": {"domain": [-3.5, 73.5], "nice": false, "zero": false},
      "axis": {"values": [0,7,14,21,28,35,42,49,56,63,70], "labelExpr": "datum.value % 14 === 0 ? datum.label : ''", "title": "Days from 14-day landmark", "titleFontWeight": "bold", "titleFontSize": 12, "titlePadding": 1, "labelFontSize": 12, "labelPadding": 1, "tickSize": 3, "tickOpacity": {"condition": {"test": "datum.value % 14 === 0", "value": 1}, "value": 0}, "grid": true, "gridColor": {"condition": {"test": "datum.value % 14 === 0", "value": "#e3e3e3"}, "value": "#f1f1f1"}, "domain": false}}},
    "layer": [
     {"mark": {"type": "area", "interpolate": "step-after", "fillOpacity": 0, "strokeWidth": 1, "strokeDash": [4, 3], "clip": true},
      "encoding": {
       "y": {"field": "hi", "type": "quantitative", "scale": {"domain": [-0.0025, 0.0525], "nice": false, "zero": false},
        "axis": {"values": [0,0.005,0.01,0.015,0.02,0.025,0.03,0.035,0.04,0.045,0.05], "labelExpr": "round(datum.value*200) % 2 === 0 ? format(datum.value, '.4f') + '%' : ''", "title": "Cumulative incidence (%)", "titleFontWeight": "bold", "titleFontSize": 12.5, "titlePadding": 7, "labelFontSize": 12, "labelPadding": 2, "tickSize": 3, "tickOpacity": {"condition": {"test": "round(datum.value*200) % 2 === 0", "value": 1}, "value": 0}, "grid": true, "gridColor": {"condition": {"test": "round(datum.value*200) % 2 === 0", "value": "#e3e3e3"}, "value": "#f1f1f1"}, "domain": false}},
       "y2": {"field": "lo"},
       "fill": {"field": "group", "type": "nominal", "scale": {"domain": ["Unvaccinated", "Oxford-AstraZeneca", "Pfizer-BioNTech"], "range": ["#a3a3a3", "#a8a8ff", "#ffacac"]},
        "legend": {"orient": "top-left", "offset": 10, "direction": "horizontal", "title": null, "symbolType": "M-0.85,0H1V-1H-1V1H1V0Z", "symbolSize": 240, "symbolStrokeWidth": 2.5, "symbolDash": [13.2, 200], "symbolOpacity": 1, "labelFontSize": 10, "labelColor": "#000000", "labelOffset": 7, "columnPadding": 6}},
       "stroke": {"field": "group", "type": "nominal", "scale": {"domain": ["Unvaccinated", "Oxford-AstraZeneca", "Pfizer-BioNTech"], "range": ["#000000", "#0000ff", "#ff0000"]},
        "legend": {"orient": "top-left", "offset": 10, "direction": "horizontal", "title": null, "symbolType": "M-0.85,0H1V-1H-1V1H1V0Z", "symbolSize": 240, "symbolStrokeWidth": 2.5, "symbolDash": [13.2, 200], "symbolOpacity": 1, "labelFontSize": 10, "labelColor": "#000000", "labelOffset": 7, "columnPadding": 6}}}},
     {"mark": {"type": "line", "interpolate": "step-after", "strokeWidth": 2.5, "clip": true},
      "encoding": {
       "y": {"field": "est", "type": "quantitative",
        "axis": {"values": [0,0.005,0.01,0.015,0.02,0.025,0.03,0.035,0.04,0.045,0.05], "labelExpr": "round(datum.value*200) % 2 === 0 ? format(datum.value, '.4f') + '%' : ''", "title": "Cumulative incidence (%)", "titleFontWeight": "bold", "titleFontSize": 12.5, "titlePadding": 7, "labelFontSize": 12, "labelPadding": 2, "tickSize": 3, "tickOpacity": {"condition": {"test": "round(datum.value*200) % 2 === 0", "value": 1}, "value": 0}, "grid": true, "gridColor": {"condition": {"test": "round(datum.value*200) % 2 === 0", "value": "#e3e3e3"}, "value": "#f1f1f1"}, "domain": false}},
       "stroke": {"field": "group", "type": "nominal",
        "legend": {"orient": "top-left", "offset": 10, "direction": "horizontal", "title": null, "symbolType": "M-0.85,0H1V-1H-1V1H1V0Z", "symbolSize": 240, "symbolStrokeWidth": 2.5, "symbolDash": [13.2, 200], "symbolOpacity": 1, "labelFontSize": 10, "labelColor": "#000000", "labelOffset": 7, "columnPadding": 6}}}}
    ]},
   {"width": 616, "height": 33,
    "title": {"text": "Number at risk: n (%)", "anchor": "start", "frame": "group", "offset": 7, "font": "Liberation Sans", "fontSize": 13, "fontWeight": "normal", "color": "#000000"},
    "data": {"name": "risk"},
    "transform": [{"filter": {"field": "panel", "equal": "C"}}],
    "mark": {"type": "text", "fontSize": 8.8, "font": "Liberation Sans"},
    "encoding": {
     "x": {"field": "day", "type": "quantitative", "scale": {"domain": [-3.5, 73.5], "nice": false, "zero": false},
      "axis": {"values": [0,7,14,21,28,35,42,49,56,63,70], "labelExpr": "datum.value % 14 === 0 ? datum.label : ''", "title": null, "labelFontSize": 9.5, "labelColor": "#555555", "labelPadding": 2, "tickSize": 3, "tickColor": "#555555", "tickOpacity": {"condition": {"test": "datum.value % 14 === 0", "value": 1}, "value": 0}, "grid": true, "gridColor": {"condition": {"test": "datum.value % 14 === 0", "value": "#e3e3e3"}, "value": "#f1f1f1"}, "domain": false}},
     "y": {"field": "group", "type": "nominal", "scale": {"type": "point", "domain": ["Unvaccinated", "Oxford-AstraZeneca", "Pfizer-BioNTech"], "padding": 0.6},
      "axis": {"title": null, "labelFontSize": 8.8, "labelPadding": 2, "tickSize": 3, "grid": true, "gridColor": "#ebebeb", "domain": false, "labelColor": {"expr": "datum.value === 'Oxford-AstraZeneca' ? '#0000ff' : datum.value === 'Pfizer-BioNTech' ? '#ff0000' : '#000000'"}}},
     "text": {"field": "label"},
     "color": {"field": "group", "type": "nominal", "scale": {"domain": ["Unvaccinated", "Oxford-AstraZeneca", "Pfizer-BioNTech"], "range": ["#000000", "#0000ff", "#ff0000"]}, "legend": null}
    }}
  ]},
  {"width": 616, "height": 33,
   "title": {"text": "Cumulative number of events", "anchor": "start", "frame": "group", "offset": 7, "font": "Liberation Sans", "fontSize": 13, "fontWeight": "normal", "color": "#000000"},
   "data": {"name": "events"},
   "transform": [{"filter": {"field": "panel", "equal": "C"}}],
   "mark": {"type": "text", "fontSize": 8.8, "font": "Liberation Sans"},
   "encoding": {
    "x": {"field": "day", "type": "quantitative", "scale": {"domain": [-3.5, 73.5], "nice": false, "zero": false},
     "axis": {"values": [0,7,14,21,28,35,42,49,56,63,70], "title": null, "labels": false, "ticks": false, "grid": true, "gridColor": {"condition": {"test": "datum.value % 14 === 0", "value": "#e3e3e3"}, "value": "#f1f1f1"}, "domain": false}},
    "y": {"field": "group", "type": "nominal", "scale": {"type": "point", "domain": ["Unvaccinated", "Oxford-AstraZeneca", "Pfizer-BioNTech"], "padding": 0.6},
     "axis": {"title": null, "labelFontSize": 8.8, "labelPadding": 2, "tickSize": 3, "grid": true, "gridColor": "#ebebeb", "domain": false, "labelColor": {"expr": "datum.value === 'Oxford-AstraZeneca' ? '#0000ff' : datum.value === 'Pfizer-BioNTech' ? '#ff0000' : '#000000'"}}},
    "text": {"field": "label"},
    "color": {"field": "group", "type": "nominal", "scale": {"domain": ["Unvaccinated", "Oxford-AstraZeneca", "Pfizer-BioNTech"], "range": ["#000000", "#0000ff", "#ff0000"]}, "legend": null}
   }}
 ]},

 {"spacing": 21, "vconcat": [
  {"spacing": 11, "vconcat": [
   {"width": 616, "height": 100,
    "title": {"text": "D) All-cause mortality", "anchor": "start", "frame": "group", "dx": 10, "offset": -20, "font": "Lato", "fontSize": 14, "fontWeight": "bold", "color": "#000000"},
    "data": {"name": "curves"},
    "transform": [{"filter": {"field": "panel", "equal": "D"}}],
    "encoding": {"x": {"field": "day", "type": "quantitative", "scale": {"domain": [-3.5, 73.5], "nice": false, "zero": false},
      "axis": {"values": [0,7,14,21,28,35,42,49,56,63,70], "labelExpr": "datum.value % 14 === 0 ? datum.label : ''", "title": "Days from 14-day landmark", "titleFontWeight": "bold", "titleFontSize": 12, "titlePadding": 1, "labelFontSize": 12, "labelPadding": 1, "tickSize": 3, "tickOpacity": {"condition": {"test": "datum.value % 14 === 0", "value": 1}, "value": 0}, "grid": true, "gridColor": {"condition": {"test": "datum.value % 14 === 0", "value": "#e3e3e3"}, "value": "#f1f1f1"}, "domain": false}}},
    "layer": [
     {"mark": {"type": "area", "interpolate": "step-after", "fillOpacity": 0, "strokeWidth": 1, "strokeDash": [4, 3], "clip": true},
      "encoding": {
       "y": {"field": "hi", "type": "quantitative", "scale": {"domain": [-0.0125, 0.2625], "nice": false, "zero": false},
        "axis": {"values": [0,0.025,0.05,0.075,0.1,0.125,0.15,0.175,0.2,0.225,0.25], "labelExpr": "round(datum.value*40) % 2 === 0 ? format(datum.value, '.3f') + '%' : ''", "title": "Cumulative incidence (%)", "titleFontWeight": "bold", "titleFontSize": 12.5, "titlePadding": 7, "labelFontSize": 12, "labelPadding": 2, "tickSize": 3, "tickOpacity": {"condition": {"test": "round(datum.value*40) % 2 === 0", "value": 1}, "value": 0}, "grid": true, "gridColor": {"condition": {"test": "round(datum.value*40) % 2 === 0", "value": "#e3e3e3"}, "value": "#f1f1f1"}, "domain": false}},
       "y2": {"field": "lo"},
       "fill": {"field": "group", "type": "nominal", "scale": {"domain": ["Unvaccinated", "Oxford-AstraZeneca", "Pfizer-BioNTech"], "range": ["#a3a3a3", "#a8a8ff", "#ffacac"]},
        "legend": {"orient": "top-left", "offset": 10, "direction": "horizontal", "title": null, "symbolType": "M-0.85,0H1V-1H-1V1H1V0Z", "symbolSize": 240, "symbolStrokeWidth": 2.5, "symbolDash": [13.2, 200], "symbolOpacity": 1, "labelFontSize": 10, "labelColor": "#000000", "labelOffset": 7, "columnPadding": 6}},
       "stroke": {"field": "group", "type": "nominal", "scale": {"domain": ["Unvaccinated", "Oxford-AstraZeneca", "Pfizer-BioNTech"], "range": ["#000000", "#0000ff", "#ff0000"]},
        "legend": {"orient": "top-left", "offset": 10, "direction": "horizontal", "title": null, "symbolType": "M-0.85,0H1V-1H-1V1H1V0Z", "symbolSize": 240, "symbolStrokeWidth": 2.5, "symbolDash": [13.2, 200], "symbolOpacity": 1, "labelFontSize": 10, "labelColor": "#000000", "labelOffset": 7, "columnPadding": 6}}}},
     {"mark": {"type": "line", "interpolate": "step-after", "strokeWidth": 2.5, "clip": true},
      "encoding": {
       "y": {"field": "est", "type": "quantitative",
        "axis": {"values": [0,0.025,0.05,0.075,0.1,0.125,0.15,0.175,0.2,0.225,0.25], "labelExpr": "round(datum.value*40) % 2 === 0 ? format(datum.value, '.3f') + '%' : ''", "title": "Cumulative incidence (%)", "titleFontWeight": "bold", "titleFontSize": 12.5, "titlePadding": 7, "labelFontSize": 12, "labelPadding": 2, "tickSize": 3, "tickOpacity": {"condition": {"test": "round(datum.value*40) % 2 === 0", "value": 1}, "value": 0}, "grid": true, "gridColor": {"condition": {"test": "round(datum.value*40) % 2 === 0", "value": "#e3e3e3"}, "value": "#f1f1f1"}, "domain": false}},
       "stroke": {"field": "group", "type": "nominal",
        "legend": {"orient": "top-left", "offset": 10, "direction": "horizontal", "title": null, "symbolType": "M-0.85,0H1V-1H-1V1H1V0Z", "symbolSize": 240, "symbolStrokeWidth": 2.5, "symbolDash": [13.2, 200], "symbolOpacity": 1, "labelFontSize": 10, "labelColor": "#000000", "labelOffset": 7, "columnPadding": 6}}}}
    ]},
   {"width": 616, "height": 33,
    "title": {"text": "Number at risk: n (%)", "anchor": "start", "frame": "group", "offset": 7, "font": "Liberation Sans", "fontSize": 13, "fontWeight": "normal", "color": "#000000"},
    "data": {"name": "risk"},
    "transform": [{"filter": {"field": "panel", "equal": "D"}}],
    "mark": {"type": "text", "fontSize": 8.8, "font": "Liberation Sans"},
    "encoding": {
     "x": {"field": "day", "type": "quantitative", "scale": {"domain": [-3.5, 73.5], "nice": false, "zero": false},
      "axis": {"values": [0,7,14,21,28,35,42,49,56,63,70], "labelExpr": "datum.value % 14 === 0 ? datum.label : ''", "title": null, "labelFontSize": 9.5, "labelColor": "#555555", "labelPadding": 2, "tickSize": 3, "tickColor": "#555555", "tickOpacity": {"condition": {"test": "datum.value % 14 === 0", "value": 1}, "value": 0}, "grid": true, "gridColor": {"condition": {"test": "datum.value % 14 === 0", "value": "#e3e3e3"}, "value": "#f1f1f1"}, "domain": false}},
     "y": {"field": "group", "type": "nominal", "scale": {"type": "point", "domain": ["Unvaccinated", "Oxford-AstraZeneca", "Pfizer-BioNTech"], "padding": 0.6},
      "axis": {"title": null, "labelFontSize": 8.8, "labelPadding": 2, "tickSize": 3, "grid": true, "gridColor": "#ebebeb", "domain": false, "labelColor": {"expr": "datum.value === 'Oxford-AstraZeneca' ? '#0000ff' : datum.value === 'Pfizer-BioNTech' ? '#ff0000' : '#000000'"}}},
     "text": {"field": "label"},
     "color": {"field": "group", "type": "nominal", "scale": {"domain": ["Unvaccinated", "Oxford-AstraZeneca", "Pfizer-BioNTech"], "range": ["#000000", "#0000ff", "#ff0000"]}, "legend": null}
    }}
  ]},
  {"width": 616, "height": 33,
   "title": {"text": "Cumulative number of events", "anchor": "start", "frame": "group", "offset": 7, "font": "Liberation Sans", "fontSize": 13, "fontWeight": "normal", "color": "#000000"},
   "data": {"name": "events"},
   "transform": [{"filter": {"field": "panel", "equal": "D"}}],
   "mark": {"type": "text", "fontSize": 8.8, "font": "Liberation Sans"},
   "encoding": {
    "x": {"field": "day", "type": "quantitative", "scale": {"domain": [-3.5, 73.5], "nice": false, "zero": false},
     "axis": {"values": [0,7,14,21,28,35,42,49,56,63,70], "title": null, "labels": false, "ticks": false, "grid": true, "gridColor": {"condition": {"test": "datum.value % 14 === 0", "value": "#e3e3e3"}, "value": "#f1f1f1"}, "domain": false}},
    "y": {"field": "group", "type": "nominal", "scale": {"type": "point", "domain": ["Unvaccinated", "Oxford-AstraZeneca", "Pfizer-BioNTech"], "padding": 0.6},
     "axis": {"title": null, "labelFontSize": 8.8, "labelPadding": 2, "tickSize": 3, "grid": true, "gridColor": "#ebebeb", "domain": false, "labelColor": {"expr": "datum.value === 'Oxford-AstraZeneca' ? '#0000ff' : datum.value === 'Pfizer-BioNTech' ? '#ff0000' : '#000000'"}}},
    "text": {"field": "label"},
    "color": {"field": "group", "type": "nominal", "scale": {"domain": ["Unvaccinated", "Oxford-AstraZeneca", "Pfizer-BioNTech"], "range": ["#000000", "#0000ff", "#ff0000"]}, "legend": null}
   }}
 ]}
]
}
